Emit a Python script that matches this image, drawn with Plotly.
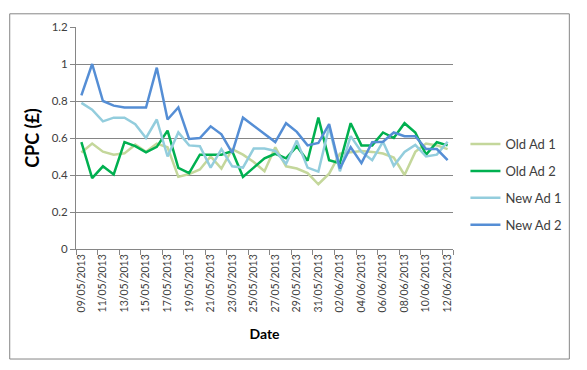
import plotly.graph_objects as go

dates = ["09/05/2013", "10/05/2013", "11/05/2013", "12/05/2013", "13/05/2013", "14/05/2013",
         "15/05/2013", "16/05/2013", "17/05/2013", "18/05/2013", "19/05/2013", "20/05/2013",
         "21/05/2013", "22/05/2013", "23/05/2013", "24/05/2013", "25/05/2013", "26/05/2013",
         "27/05/2013", "28/05/2013", "29/05/2013", "30/05/2013", "31/05/2013", "01/06/2013",
         "02/06/2013", "03/06/2013", "04/06/2013", "05/06/2013", "06/06/2013", "07/06/2013",
         "08/06/2013", "09/06/2013", "10/06/2013", "11/06/2013", "12/06/2013"]

old_ad_1 = [0.522, 0.57, 0.526, 0.51, 0.517, 0.564, 0.526, 0.57, 0.55, 0.39, 0.405, 0.43,
            0.50, 0.435, 0.54, 0.51, 0.47, 0.42, 0.55, 0.447, 0.435, 0.41, 0.35, 0.407,
            0.516, 0.525, 0.53, 0.525, 0.516, 0.494, 0.40, 0.525, 0.57, 0.56, 0.54]
old_ad_2 = [0.578, 0.383, 0.447, 0.403, 0.578, 0.556, 0.522, 0.552, 0.64, 0.438, 0.41, 0.51,
            0.51, 0.51, 0.53, 0.39, 0.44, 0.49, 0.515, 0.49, 0.555, 0.477, 0.71, 0.48,
            0.464, 0.68, 0.56, 0.56, 0.63, 0.60, 0.68, 0.63, 0.51, 0.577, 0.56]
new_ad_1 = [0.79, 0.753, 0.69, 0.71, 0.71, 0.675, 0.60, 0.70, 0.50, 0.63, 0.56, 0.556,
            0.44, 0.54, 0.447, 0.44, 0.543, 0.543, 0.53, 0.46, 0.586, 0.44, 0.418, 0.66,
            0.42, 0.61, 0.525, 0.48, 0.58, 0.45, 0.525, 0.563, 0.50, 0.51, 0.58]
new_ad_2 = [0.83, 1.00, 0.80, 0.775, 0.765, 0.765, 0.765, 0.98, 0.70, 0.765, 0.595, 0.60,
            0.663, 0.62, 0.52, 0.71, 0.665, 0.62, 0.578, 0.68, 0.633, 0.56, 0.573, 0.675,
            0.435, 0.55, 0.464, 0.577, 0.58, 0.63, 0.61, 0.61, 0.54, 0.54, 0.48]

series_names = ["Old Ad 1", "Old Ad 2", "New Ad 1", "New Ad 2"]
series_vals = [old_ad_1, old_ad_2, new_ad_1, new_ad_2]
colors = ["#C4D79B", "#00B050", "#93CDDD", "#558ED5"]

y_ticks = [0, 0.2, 0.4, 0.6, 0.8, 1, 1.2]
y_ticktext = ["0", "0.2", "0.4", "0.6", "0.8", "1", "1.2"]

font_family = "Lato, Open Sans, Liberation Sans, sans-serif"

# the page has an 8px body margin, so the figure is sized/offset to fit the window
W, H = 571, 354
ML, MR, MT, MB = 68, 119, 14, 113
PW, PH = W - ML - MR, H - MT - MB

fig = go.Figure()
for name, vals, col in zip(series_names, series_vals, colors):
    fig.add_trace(go.Scatter(
        x=dates, y=vals, name=name, mode="lines",
        line=dict(color=col, width=2.5), legendgroup=name,
    ))

fig.update_layout(
    width=W, height=H,
    margin=dict(l=ML, r=MR, t=MT, b=MB),
    paper_bgcolor="white", plot_bgcolor="white",
    font=dict(family=font_family, size=11, color="#404040"),
    showlegend=True,
    legend=dict(x=1.033, y=0.29, xanchor="left", yanchor="middle",
                tracegroupgap=7, font=dict(size=13, color="#404040"),
                bgcolor="rgba(0,0,0,0)", itemwidth=30),
    xaxis=dict(
        type="category", range=[-0.5, len(dates) - 0.5],
        tickmode="array", tickvals=dates[::2], ticktext=dates[::2],
        tickangle=-90, tickson="boundaries", ticks="outside", ticklen=5,
        tickcolor="#868686", showline=True, linecolor="#868686", linewidth=1,
        showgrid=False, tickfont=dict(size=10.5, color="#404040"),
        title=dict(text="<b>Date</b>", font=dict(size=14, color="#000000"), standoff=17),
    ),
    yaxis=dict(
        range=[0, 1.2], tickmode="array", tickvals=y_ticks, ticktext=y_ticktext,
        ticks="outside", ticklen=5, tickcolor="#868686",
        showline=True, linecolor="#868686", linewidth=1,
        showgrid=True, gridcolor="#868686", gridwidth=1, zeroline=False,
        tickfont=dict(size=11.5, color="#404040"),
        title=dict(text="<b>CPC (£)</b>", font=dict(size=18, color="#000000"), standoff=7),
    ),
)

fig.add_shape(type="rect", xref="paper", yref="paper",
              x0=(0.5 - ML) / PW, x1=(W - 0.5 - ML) / PW,
              y0=(MT + PH - (H - 0.5)) / PH, y1=(MT + PH - 0.5) / PH,
              line=dict(color="#868686", width=1), fillcolor="rgba(0,0,0,0)", layer="below")

fig.write_html("out.html")
